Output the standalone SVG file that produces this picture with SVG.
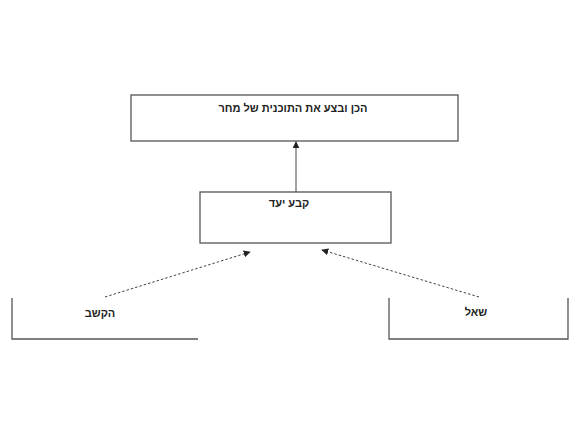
<svg xmlns="http://www.w3.org/2000/svg" width="576" height="434" viewBox="0 0 576 434">
<style>
.box{fill:#fff;stroke:#555;stroke-width:1.3}
.edge{fill:none;stroke:#555;stroke-width:1.3}
.lbl{font-family:"Liberation Sans",Arial,sans-serif;font-size:11px;font-weight:bold;fill:#222;text-anchor:middle}
.conn{fill:none;stroke:#444;stroke-width:1}
.dash{stroke-dasharray:2.5,2}
</style>
<defs>
<marker id="ah" viewBox="0 0 10 10" refX="9" refY="5" markerWidth="7" markerHeight="7" markerUnits="userSpaceOnUse" orient="auto">
<path d="M0,0 L10,5 L0,10 z" fill="#222"/>
</marker>
</defs>
<rect width="576" height="434" fill="#fff"/>
<g id="node-plan">
<rect class="box" x="131" y="95" width="327" height="46"/>
<text class="lbl" x="293" y="112" direction="rtl">הכן ובצע את התוכנית של מחר</text>
</g>
<g id="node-goal">
<rect class="box" x="200" y="192" width="191" height="51"/>
<text class="lbl" x="289" y="207" direction="rtl">קבע יעד</text>
</g>
<g id="node-listen">
<path class="edge" d="M12,298 V339 H198"/>
<text class="lbl" x="100" y="317" direction="rtl">הקשב</text>
</g>
<g id="node-ask">
<path class="edge" d="M389,298 V339 H568 V298"/>
<text class="lbl" x="476" y="316" direction="rtl">שאל</text>
</g>
<g id="connectors">
<line class="conn" x1="296" y1="192" x2="296" y2="142" marker-end="url(#ah)"/>
<line class="conn dash" x1="105" y1="297" x2="250" y2="252" marker-end="url(#ah)"/>
<line class="conn dash" x1="479" y1="297" x2="322" y2="250" marker-end="url(#ah)"/>
</g>
</svg>
